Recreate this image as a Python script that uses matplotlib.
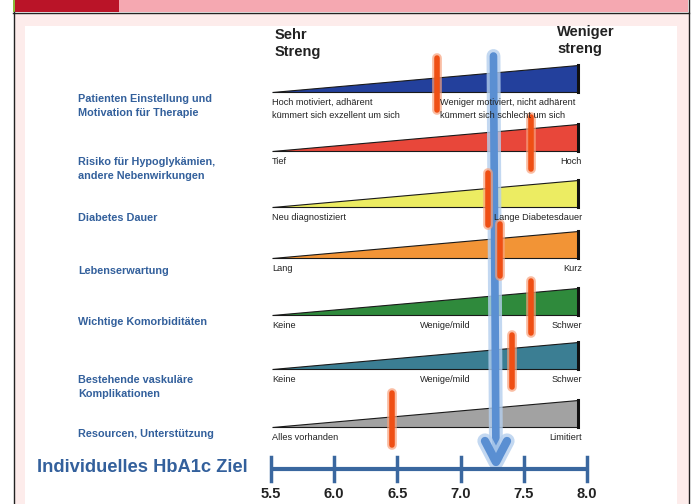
import matplotlib.pyplot as plt
from matplotlib.patches import Polygon, Rectangle
import numpy as np

plt.rcParams['font.family'] = ['Liberation Sans', 'DejaVu Sans']

# DATA
row_labels = ["Patienten Einstellung und\nMotivation für Therapie",
              "Risiko für Hypoglykämien,\nandere Nebenwirkungen",
              "Diabetes Dauer",
              "Lebenserwartung",
              "Wichtige Komorbiditäten",
              "Bestehende vaskuläre\nKomplikationen",
              "Resourcen, Unterstützung"]
left_text = ["Hoch motiviert, adhärent\nkümmert sich exzellent um sich",
             "Tief", "Neu diagnostiziert", "Lang", "Keine", "Keine", "Alles vorhanden"]
mid_text = ["Weniger motiviert, nicht adhärent\nkümmert sich schlecht um sich",
            "", "", "", "Wenige/mild", "Wenige/mild", ""]
right_text = ["", "Hoch", "Lange Diabetesdauer", "Kurz", "Schwer", "Schwer", "Limitiert"]
wedge_colors = ['#23409c', '#e8473a', '#ecec62', '#f29436', '#2f8a3c', '#3b7e93', '#a2a2a2']
marker_values = [6.81, 7.56, 7.22, 7.31, 7.56, 7.41, 6.46]
target_value = 7.28
ticks = [5.5, 6.0, 6.5, 7.0, 7.5, 8.0]

# layout (pixels, y down)
W, H = 693, 504
px_per_unit = 316 / 2.5
x0_px = 271
row_base = [92, 151, 207, 258, 315, 369, 427]
label_y = [106, 169, 218, 271, 322, 387, 434]
wedge_h = 27
wedge_start, wedge_end = 5.51, 7.93


def px2x(px):
    return 5.5 + (px - x0_px) / px_per_unit


fig = plt.figure(figsize=(W / 100, H / 100), dpi=100)
fig.patch.set_facecolor('white')

# frame / header decoration
bg = fig.add_axes([0, 0, 1, 1])
bg.set_xlim(0, W)
bg.set_ylim(H, 0)
bg.axis('off')
bg.add_patch(Rectangle((14, 13), 675, H, facecolor='#fdeceb', edgecolor='none'))
bg.add_patch(Rectangle((25, 26), 652, H, facecolor='white', edgecolor='none'))
bg.add_patch(Rectangle((14, 0), 105, 12, facecolor='#ba1428', edgecolor='none'))
bg.add_patch(Rectangle((119, 0), 569, 12, facecolor='#f5a8b1', edgecolor='none'))
bg.add_patch(Rectangle((13, 0), 2, 12, facecolor='#8ab83a', edgecolor='none'))
bg.plot([13, 689], [12.5, 12.5], color='#222222', lw=1)
bg.plot([13.5, 13.5], [12, H], color='#222222', lw=1)
bg.plot([688.5, 688.5], [0, H], color='#222222', lw=1)

ax = fig.add_axes([0, 0, 1, 1])
ax.set_xlim(px2x(0), px2x(W))
ax.set_ylim(H, 0)
ax.axis('off')

label_col = '#33609c'

for i in range(len(row_labels)):
    yb = row_base[i]
    poly = Polygon([(wedge_start, yb), (wedge_end, yb), (wedge_end, yb - wedge_h)],
                   closed=True, facecolor=wedge_colors[i], edgecolor='#1a1a1a', lw=0.8)
    ax.add_patch(poly)
    ax.plot([wedge_end, wedge_end], [yb, yb - wedge_h], color='#111111', lw=2.2)

    ax.text(px2x(78), label_y[i], row_labels[i], fontsize=7.8,
            fontweight='bold', color=label_col, va='center', ha='left', linespacing=1.45)

    ax.text(wedge_start, yb + 6, left_text[i], fontsize=6.6, color='#222222',
            va='top', ha='left', linespacing=1.6)
    if mid_text[i]:
        if i == 0:
            ax.text(px2x(440), yb + 6, mid_text[i], fontsize=6.6, color='#222222',
                    va='top', ha='left', linespacing=1.6)
        else:
            ax.text(px2x(445), yb + 6, mid_text[i], fontsize=6.6, color='#222222',
                    va='top', ha='center')
    if right_text[i]:
        ax.text(px2x(582), yb + 6, right_text[i], fontsize=6.6, color='#222222',
                va='top', ha='right')

# blue target arrow
arrow_glow, arrow_core = '#b4cfee', '#5a8fd2'
ax.plot([target_value - 0.02, target_value], [56, 458], color=arrow_glow, lw=10,
        solid_capstyle='round', alpha=0.8)
ax.plot([target_value - 0.02, target_value], [56, 458], color=arrow_core, lw=5.5,
        solid_capstyle='round')
ah = 11 / px_per_unit
ax.plot([target_value - ah, target_value, target_value + ah], [441, 462, 441],
        color=arrow_glow, lw=11, solid_capstyle='round', solid_joinstyle='round', alpha=0.8)
ax.plot([target_value - ah, target_value, target_value + ah], [441, 462, 441],
        color=arrow_core, lw=6, solid_capstyle='round', solid_joinstyle='round')

# orange markers
for i, v in enumerate(marker_values):
    yb = row_base[i]
    ax.plot([v, v], [yb - 34, yb + 18], color='#f8a27d', lw=7, solid_capstyle='round', alpha=0.7)
    ax.plot([v, v], [yb - 34, yb + 18], color='#ef4f14', lw=4, solid_capstyle='round')

# HbA1c axis
axis_col = '#3a679f'
ax.plot([ticks[0], ticks[-1]], [469, 469], color=axis_col, lw=3, solid_capstyle='butt')
for t in ticks:
    ax.plot([t, t], [457, 481], color=axis_col, lw=2.5)
    ax.text(t, 494, f"{t:.1f}", fontsize=10.5, fontweight='bold', color='#222222',
            ha='center', va='center')

ax.text(px2x(37), 468, "Individuelles HbA1c Ziel", fontsize=13.2,
        fontweight='bold', color=label_col, ha='left', va='center')

ax.text(px2x(275), 28, "Sehr\nStreng", fontsize=10.5, fontweight='bold', color='#222222',
        ha='left', va='top', linespacing=1.25)
ax.text(px2x(557), 25, "Weniger\nstreng", fontsize=10.5, fontweight='bold', color='#222222',
        ha='left', va='top', linespacing=1.25)

fig.savefig('out.png', dpi=100)
